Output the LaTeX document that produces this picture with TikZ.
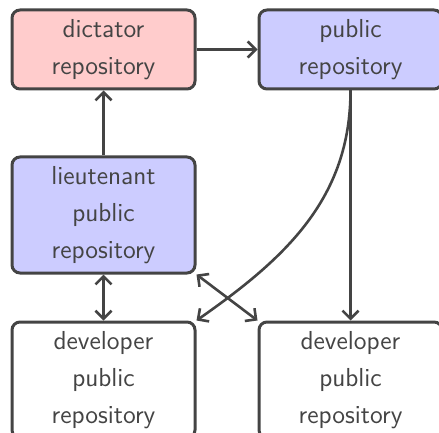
\documentclass[tikz,border=0pt]{standalone}
\usetikzlibrary{arrows.meta}
\definecolor{linegray}{HTML}{444444}
\begin{document}
\begin{tikzpicture}[x=0.5pt,y=-0.5pt]
\tikzset{repo/.style={draw=linegray, line width=1.5pt, rounded corners=4pt, minimum width=91.5pt, text=linegray, align=center, font=\sffamily\fontsize{13}{18.5}\selectfont},
         fleche/.style={draw=linegray, line width=1.3pt, -{Straight Barb[length=4pt,width=8pt]}}}
\useasboundingbox (0,0) rectangle (439,433);
\clip (0,0) rectangle (439,433);
\node[repo, fill=red!20, minimum height=39.5pt] (dictator) at (103.5,49.5) {dictator\\repository};
\node[repo, fill=blue!20, minimum height=39.5pt] (public) at (350.5,49.5) {public\\repository};
\node[repo, fill=blue!20, minimum height=58pt] (lieut) at (103.5,215) {lieutenant\\public\\repository};
\node[repo, fill=white, minimum height=58pt] (devA) at (103.5,380) {developer\\public\\repository};
\node[repo, fill=white, minimum height=58pt] (devB) at (350.5,380) {developer\\public\\repository};
\draw[fleche] (dictator) -- (public);
\draw[fleche] (lieut) -- (dictator);
\draw[fleche] (public) -- (devB);
\draw[fleche] (public.south) to[out=-90, in=35] (devA.north east);
\draw[fleche, {Straight Barb[length=4pt,width=8pt]}-{Straight Barb[length=4pt,width=8pt]}] (lieut) -- (devA);
\draw[fleche, {Straight Barb[length=4pt,width=8pt]}-{Straight Barb[length=4pt,width=8pt]}] (lieut.south east) -- (devB.north west);
\end{tikzpicture}
\end{document}
